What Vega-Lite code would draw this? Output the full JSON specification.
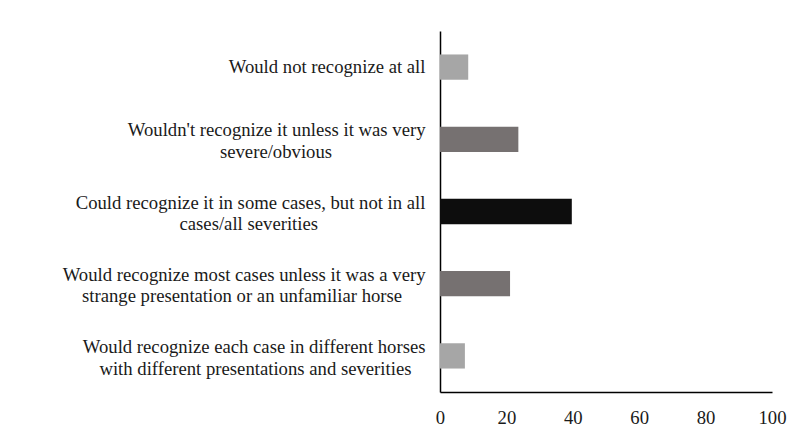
{
  "$schema": "https://vega.github.io/schema/vega-lite/v6.json",
  "autosize": "none",
  "width": 332,
  "height": 361,
  "padding": {"left": 440, "top": 31, "right": 16, "bottom": 44},
  "background": "white",
  "config": {
    "view": {"stroke": null}
  },
  "data": {
    "values": [
      {"category": "Would not recognize at all", "percent": 8.5},
      {"category": "Wouldn't recognize it unless it was very|severe/obvious\u00a0\u00a0\u00a0\u00a0\u00a0\u00a0\u00a0\u00a0\u00a0\u00a0\u00a0\u00a0\u00a0\u00a0\u00a0\u00a0\u00a0\u00a0\u00a0\u00a0\u2060", "percent": 23.6},
      {"category": "Could recognize it in some cases, but not in all|cases/all severities\u00a0\u00a0\u00a0\u00a0\u00a0\u00a0\u00a0\u00a0\u00a0\u00a0\u00a0\u00a0\u00a0\u00a0\u00a0\u00a0\u00a0\u00a0\u00a0\u00a0\u00a0\u00a0\u00a0\u2060", "percent": 39.7},
      {"category": "Would recognize most cases unless it was a very|strange presentation or an unfamiliar horse\u00a0\u00a0\u00a0\u00a0\u00a0\u2060", "percent": 21.1},
      {"category": "Would recognize each case in different horses|with different presentations and severities\u00a0\u00a0\u00a0\u2060", "percent": 7.5}
    ]
  },
  "mark": {"type": "bar"},
  "encoding": {
    "y": {
      "field": "category",
      "type": "nominal",
      "sort": null,
      "scale": {"paddingInner": 0.65, "paddingOuter": 0.325},
      "axis": {
        "title": null,
        "ticks": false,
        "domainColor": "#000000",
        "domainWidth": 1.5,
        "labelExpr": "split(datum.label, '|')",
        "labelAlign": "right",
        "labelBaseline": "middle",
        "labelPadding": 15,
        "labelOffset": {"condition": {"test": "indexof(datum.value, '|') >= 0", "value": -9}, "value": 0},
        "labelLimit": 0,
        "labelFont": "Liberation Serif",
        "labelFontSize": 18.7,
        "labelLineHeight": 21.7,
        "labelColor": "#1a1a1a"
      }
    },
    "x": {
      "field": "percent",
      "type": "quantitative",
      "scale": {"domain": [0, 100], "nice": false},
      "axis": {
        "title": null,
        "values": [0, 20, 40, 60, 80, 100],
        "ticks": false,
        "grid": false,
        "domainColor": "#000000",
        "domainWidth": 1.5,
        "labelPadding": 16,
        "labelFont": "Liberation Serif",
        "labelFontSize": 18.7,
        "labelColor": "#1a1a1a",
        "labelFlush": false
      }
    },
    "color": {
      "field": "category",
      "type": "nominal",
      "sort": null,
      "legend": null,
      "scale": {"range": ["#a6a6a6", "#767171", "#0d0d0d", "#767171", "#a6a6a6"]}
    }
  }
}
